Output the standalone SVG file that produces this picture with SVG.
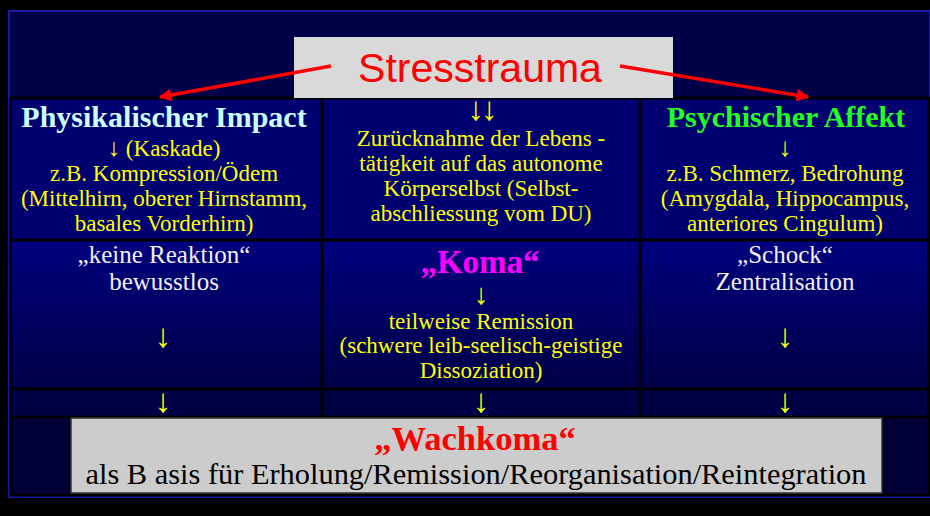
<svg xmlns="http://www.w3.org/2000/svg" width="930" height="516" viewBox="0 0 930 516">
<defs>
<linearGradient id="g2" x1="0" y1="0" x2="0" y2="1">
<stop offset="0" stop-color="#00007e"/>
<stop offset="1" stop-color="#000046"/>
</linearGradient>
<marker id="ah" viewBox="0 0 10 10" refX="9" refY="5" markerWidth="4.5" markerHeight="3.6" orient="auto" markerUnits="strokeWidth">
<path d="M0,0 L10,5 L0,10 z" fill="#ff0000"/>
</marker>
<style>
.t{font-family:"Liberation Serif","Times New Roman",serif;text-anchor:middle}
.y{fill:#ffff00;font-size:23px}
.w{fill:#f0f0f0;font-size:25px}
.b{font-weight:bold}
.ar{fill:#ffff00;font-size:33px;font-family:"Liberation Serif","DejaVu Serif",serif;text-anchor:middle}
.grid{stroke:#000;stroke-width:3}
</style>
</defs>
<rect x="0" y="0" width="930" height="516" fill="#000"/>
<rect x="9" y="11" width="921" height="486" fill="#000048" stroke="#1818a8" stroke-width="2"/>
<rect x="10" y="98" width="920" height="142" fill="#000070"/>
<rect x="10" y="240" width="920" height="149" fill="url(#g2)"/>
<rect x="10" y="389" width="920" height="28" fill="#000044"/>
<rect x="10" y="417" width="920" height="78" fill="#000036"/>
<g id="grid">
<line class="grid" x1="10" y1="98" x2="930" y2="98"/>
<line class="grid" x1="10" y1="240" x2="930" y2="240"/>
<line class="grid" x1="10" y1="389" x2="930" y2="389"/>
<line class="grid" x1="10" y1="417" x2="930" y2="417"/>
<line class="grid" x1="10.5" y1="98" x2="10.5" y2="495"/>
<line class="grid" x1="928.5" y1="98" x2="928.5" y2="495"/>
<line class="grid" x1="322" y1="98" x2="322" y2="418"/>
<line class="grid" x1="640" y1="98" x2="640" y2="418"/>
<line class="grid" x1="10" y1="495" x2="930" y2="495"/>
</g>
<g id="header">
<rect x="294" y="37" width="379" height="61" fill="#d9d9d9"/>
<text x="480" y="82" font-family="Liberation Sans, Arial, sans-serif" font-size="41" fill="#ff0000" text-anchor="middle">Stresstrauma</text>
</g>
<g id="connectors">
<line x1="331" y1="66" x2="160" y2="97" stroke="#ff0000" stroke-width="3.5" marker-end="url(#ah)"/>
<line x1="620" y1="66" x2="808" y2="97" stroke="#ff0000" stroke-width="3.5" marker-end="url(#ah)"/>
</g>
<g id="physikalisch">
<text class="t b" x="164" y="127" font-size="30" fill="#ccffff">Physikalischer Impact</text>
<text class="t y" x="164" y="156"><tspan font-size="25">↓</tspan> (Kaskade)</text>
<text class="t y" x="164" y="181">z.B. Kompression/Ödem</text>
<text class="t y" x="164" y="206">(Mittelhirn, oberer Hirnstamm,</text>
<text class="t y" x="164" y="231">basales Vorderhirn)</text>
</g>
<g id="zuruecknahme">
<text class="ar" x="481" y="120" letter-spacing="-3">↓↓</text>
<text class="t y" x="481" y="146">Zurücknahme der Lebens -</text>
<text class="t y" x="481" y="171">tätigkeit auf das autonome</text>
<text class="t y" x="481" y="196">Körperselbst (Selbst-</text>
<text class="t y" x="481" y="221">abschliessung vom DU)</text>
</g>
<g id="psychisch">
<text class="t"><tspan x="786" y="127" font-size="30" font-weight="bold" fill="#22ff22">Psychischer Affekt</tspan><tspan x="785" y="156" font-size="26" fill="#ffff00">↓</tspan></text>
<text class="t y" x="785" y="181">z.B. Schmerz, Bedrohung</text>
<text class="t y" x="785" y="206">(Amygdala, Hippocampus,</text>
<text class="t y" x="785" y="231">anteriores Cingulum)</text>
</g>
<g id="keine-reaktion">
<text class="t w" x="164" y="263">„keine Reaktion“</text>
<text class="t w" x="164" y="290">bewusstlos</text>
<text class="ar" x="163" y="347">↓</text>
<text class="ar" x="163" y="412">↓</text>
</g>
<g id="koma">
<text class="t"><tspan x="480" y="273" font-size="33" font-weight="bold" fill="#ff00ff">„Koma“</tspan><tspan x="481" y="304" font-size="29" fill="#ffff00">↓</tspan></text>
<text class="t y" x="481" y="329">teilweise Remission</text>
<text class="t y" x="481" y="353">(schwere leib-seelisch-geistige</text>
<text class="t y" x="481" y="378">Dissoziation)</text>
<text class="ar" x="481" y="412">↓</text>
</g>
<g id="schock">
<text class="t w" x="785" y="263">„Schock“</text>
<text class="t w" x="785" y="290">Zentralisation</text>
<text class="ar" x="785" y="347">↓</text>
<text class="ar" x="785" y="412">↓</text>
</g>
<g id="wachkoma">
<rect x="71" y="418" width="811" height="75" fill="#cccccc" stroke="#333" stroke-width="1.5"/>
<text class="t b" x="475" y="450" font-size="34.5" fill="#ff0000">„Wachkoma“</text>
<text class="t" x="476" y="484" font-size="30" fill="#000" textLength="781" lengthAdjust="spacingAndGlyphs">als B asis für Erholung/Remission/Reorganisation/Reintegration</text>
</g>
</svg>
